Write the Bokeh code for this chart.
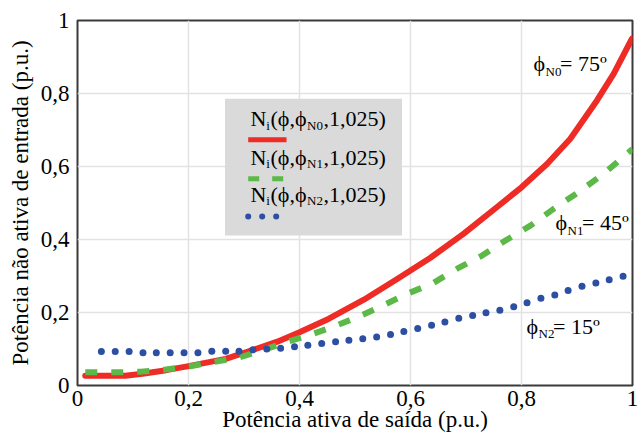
import math
from bokeh.plotting import figure
from bokeh.models import Range1d, FixedTicker, Label, BoxAnnotation
from bokeh.embed import file_html
from bokeh.resources import INLINE

# ---------------- data ----------------
x_ticks = [0, 0.2, 0.4, 0.6, 0.8, 1]
x_tick_labels = ["0", "0,2", "0,4", "0,6", "0,8", "1"]
y_ticks = [0, 0.2, 0.4, 0.6, 0.8, 1]
y_tick_labels = ["0", "0,2", "0,4", "0,6", "0,8", "1"]

# phi_N0 = 75 deg
red_x = [0.014, 0.05, 0.086, 0.117, 0.16, 0.2, 0.267, 0.321, 0.36, 0.4, 0.453,
         0.516, 0.576, 0.636, 0.696, 0.756, 0.8, 0.846, 0.888, 0.936, 0.966, 0.999]
red_y = [0.027, 0.027, 0.027, 0.032, 0.042, 0.053, 0.073, 0.100, 0.120, 0.146, 0.183,
         0.235, 0.292, 0.350, 0.416, 0.489, 0.543, 0.607, 0.676, 0.781, 0.854, 0.950]

# phi_N1 = 45 deg
green_x = [0.014, 0.068, 0.114, 0.159, 0.2, 0.244, 0.29, 0.333, 0.376, 0.42, 0.464,
           0.504, 0.55, 0.595, 0.639, 0.684, 0.729, 0.771, 0.816, 0.858, 0.903,
           0.948, 0.993, 1.0]
green_y = [0.036, 0.036, 0.038, 0.044, 0.052, 0.064, 0.076, 0.096, 0.119, 0.139, 0.163,
           0.187, 0.219, 0.252, 0.279, 0.320, 0.356, 0.397, 0.438, 0.484, 0.530,
           0.580, 0.639, 0.648]

# phi_N2 = 15 deg
blue_x = [0.043, 0.068, 0.093, 0.118, 0.142, 0.167, 0.192, 0.217, 0.242, 0.267,
          0.291, 0.316, 0.341, 0.366, 0.391, 0.415, 0.440, 0.465, 0.489, 0.514,
          0.539, 0.564, 0.588, 0.613, 0.638, 0.662, 0.687, 0.712, 0.736, 0.761,
          0.786, 0.810, 0.835, 0.860, 0.884, 0.909, 0.934, 0.958, 0.983]
blue_y = [0.093, 0.093, 0.093, 0.090, 0.090, 0.090, 0.090, 0.090, 0.094, 0.094,
          0.094, 0.098, 0.100, 0.102, 0.106, 0.110, 0.115, 0.120, 0.124, 0.128,
          0.133, 0.140, 0.148, 0.156, 0.165, 0.174, 0.184, 0.192, 0.199, 0.206,
          0.216, 0.227, 0.239, 0.248, 0.260, 0.272, 0.281, 0.290, 0.299]

series_subs = ["N0", "N1", "N2"]
series_angles = ["75º", "45º", "15º"]

x_title = "Potência ativa de saída (p.u.)"
y_title = "Potência não ativa de entrada (p.u.)"

# ---------------- style ----------------
RED = "#ee2b25"
GREEN = "#5cb947"
BLUE = "#2c4ea3"
FONT = "Liberation Serif"

W, H = 643, 437
L, R, T, B = 77, 632, 20, 385


def fx(px):
    return (px - L) / (R - L)


def fy(py):
    return (B - py) / (B - T)


p = figure(width=W, height=H, x_range=Range1d(0, 1), y_range=Range1d(0, 1),
           output_backend="svg", toolbar_location=None,
           min_border_left=L, min_border_right=W - R,
           min_border_top=T, min_border_bottom=H - B)
p.title.visible = False
p.background_fill_color = "white"
p.border_fill_color = "white"
p.outline_line_color = "#3a3a3a"
p.outline_line_width = 2

p.xaxis.ticker = FixedTicker(ticks=x_ticks)
p.yaxis.ticker = FixedTicker(ticks=y_ticks)
p.xaxis.major_label_overrides = {t: s for t, s in zip(x_ticks, x_tick_labels)}
p.yaxis.major_label_overrides = {t: s for t, s in zip(y_ticks, y_tick_labels)}
for ax in (p.xaxis, p.yaxis):
    ax.axis_line_color = None
    ax.major_tick_line_color = None
    ax.minor_tick_line_color = None
    ax.major_tick_out = 0
    ax.major_tick_in = 0
    ax.major_label_text_font = FONT
    ax.major_label_text_font_size = "23px"
    ax.major_label_text_color = "black"
    ax.axis_label_text_font = FONT
    ax.axis_label_text_font_size = "23px"
    ax.axis_label_text_font_style = "normal"
    ax.axis_label_text_color = "black"
p.xaxis.major_label_standoff = 5
p.yaxis.major_label_standoff = 8
p.xaxis.axis_label = x_title
p.yaxis.axis_label = y_title
p.xaxis.axis_label_standoff = -2
p.yaxis.axis_label_standoff = 5

p.grid.grid_line_color = "#e2e2e2"
p.grid.grid_line_width = 1.5

# legend background box
p.add_layout(BoxAnnotation(left=fx(224.5), right=fx(401.5), top=fy(98.3), bottom=fy(235),
                           fill_color="#dadada", fill_alpha=1.0, line_color=None,
                           level="underlay"))

# data curves
p.line(red_x, red_y, line_color=RED, line_width=6, line_join="round", line_cap="round")
p.line(green_x, green_y, line_color=GREEN, line_width=6, line_dash="12 14")
p.scatter(blue_x, blue_y, size=7, fill_color=BLUE, line_color=None)

# legend swatches
p.line([fx(247.7), fx(286)], [fy(139.3), fy(139.3)], line_color=RED, line_width=5)
p.line([fx(247.7), fx(283)], [fy(178.3), fy(178.3)], line_color=GREEN, line_width=5,
       line_dash="11 13")
p.scatter([fx(247.7), fx(261.7), fx(275.7)], [fy(216)] * 3, size=6,
          fill_color=BLUE, line_color=None)

BASE_SHIFT = 0.43  # empirical correction of the drawn baseline, in em


def add_text(px, py, txt, size):
    p.add_layout(Label(x=fx(px), y=fy(py - BASE_SHIFT * size), text=txt, text_font=FONT,
                       text_font_size=f"{size}px", text_color="black",
                       text_align="left", text_baseline="alphabetic"))


# legend texts
legend_baselines = [127.7, 166, 203.3]
for b, sub in zip(legend_baselines, series_subs):
    add_text(250, b, "N", 22)
    add_text(265.8, b + 2.5, "i", 13)
    add_text(270, b, "(ϕ,ϕ", 22)
    add_text(306.5, b + 2.5, sub, 13)
    add_text(323, b, ",1,025)", 22)

# curve annotations
ann_pos = [(533, 72.7), (555, 231.7), (526, 335)]
for (x0, b), sub, ang in zip(ann_pos, series_subs, series_angles):
    add_text(x0, b, "ϕ", 22)
    add_text(x0 + 12, b + 3.5, sub, 13)
    add_text(x0 + 26.5, b, "= " + ang, 22)

open("out.html", "w").write(file_html(p, INLINE))
